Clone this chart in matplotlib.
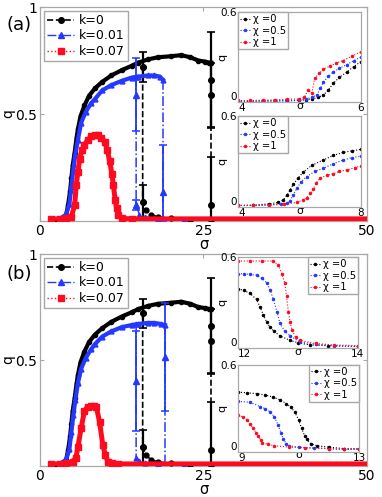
import numpy as np
import matplotlib.pyplot as plt
from matplotlib.lines import Line2D

BLACK = 'black'
BLUE = '#2438ff'
RED = '#ff0a1e'
GRAY = '#a8a8a8'

# ---- main panels, k = 0 (same in both panels) ----
k0_sig = [1.7, 2.5, 3.5, 4.0, 4.3, 4.6, 4.8, 5.0, 5.3, 5.6, 5.8, 6.2, 6.8, 7.5, 8.4, 9.5,
          10.9, 12.5, 14.0, 15.0, 16.5, 18.0, 20.0, 21.6, 23.0, 24.2, 25.2, 25.9, 26.2]
k0_q = [0.0, 0.005, 0.015, 0.03, 0.075, 0.14, 0.2, 0.26, 0.32, 0.39, 0.43, 0.49, 0.54, 0.585,
        0.62, 0.65, 0.68, 0.705, 0.725, 0.74, 0.755, 0.765, 0.77, 0.775, 0.765, 0.75, 0.745, 0.74, 0.74]
k0_drop_sig = [26.2, 26.2]
k0_drop_q = [0.74, 0.0]
k0_back_sig = [15.7, 15.7, 16.2, 17.0, 18.0, 20.0, 23.0, 26.2]
k0_back_q = [0.72, 0.09, 0.05, 0.03, 0.02, 0.012, 0.006, 0.004]
k0_err_sig = [15.7, 15.7, 26.2, 26.2, 26.2]
k0_err_q = [0.72, 0.09, 0.66, 0.59, 0.075]
k0_err = [0.07, 0.08, 0.225, 0.15, 0.225]

# ---- panel (a), k = 0.01 ----
k1a_sig = [3.0, 4.0, 4.5, 4.8, 5.1, 5.4, 5.8, 6.3, 7.0, 7.8, 8.4, 9.5, 10.9, 12.5, 14.0, 15.0,
           16.5, 17.5, 18.3, 18.8]
k1a_q = [0.01, 0.03, 0.08, 0.16, 0.24, 0.31, 0.38, 0.46, 0.51, 0.55, 0.57, 0.61, 0.635, 0.655,
         0.67, 0.675, 0.68, 0.68, 0.675, 0.66]
k1a_drop_sig = [18.8, 18.8]
k1a_drop_q = [0.66, 0.0]
k1a_back_sig = [14.7, 14.7, 15.2, 16.0, 18.0, 22.0]
k1a_back_q = [0.675, 0.075, 0.03, 0.02, 0.01, 0.005]
k1a_err_sig = [14.7, 14.7, 18.8]
k1a_err_q = [0.59, 0.075, 0.135]
k1a_err_lo = [0.17, 0.025, 0.135]
k1a_err_hi = [0.17, 0.025, 0.22]

# ---- panel (b), k = 0.01 ----
k1b_sig = [3.0, 4.0, 4.5, 4.8, 5.1, 5.4, 5.8, 6.3, 7.0, 7.8, 8.4, 9.5, 10.9, 12.5, 14.0, 15.0,
           16.5, 17.5, 18.5, 19.1]
k1b_q = [0.01, 0.03, 0.08, 0.16, 0.24, 0.31, 0.39, 0.46, 0.51, 0.55, 0.575, 0.61, 0.635, 0.655,
         0.665, 0.67, 0.675, 0.675, 0.67, 0.665]
k1b_drop_sig = [19.1, 19.1]
k1b_drop_q = [0.665, 0.0]
k1b_back_sig = [14.7, 14.7, 15.2, 16.0, 18.0, 22.0]
k1b_back_q = [0.67, 0.04, 0.025, 0.015, 0.01, 0.005]
k1b_err_sig = [14.7, 19.1]
k1b_err_q = [0.40, 0.515]
k1b_err_lo = [0.235, 0.255]
k1b_err_hi = [0.235, 0.255]

# ---- k = 0.07 ----
k7a_sig = [1.7, 3.0, 4.0, 4.8, 5.3, 5.55, 5.8, 6.07, 6.4, 6.8, 7.3, 7.85, 8.4, 8.87, 9.4, 9.9,
           10.3, 10.65, 11.0, 11.2, 11.5, 11.7, 12.0, 12.5, 14.0, 50.0]
k7a_q = [0.01, 0.01, 0.012, 0.02, 0.075, 0.17, 0.23, 0.29, 0.33, 0.355, 0.38, 0.395, 0.40, 0.40,
         0.39, 0.37, 0.33, 0.28, 0.22, 0.17, 0.10, 0.06, 0.03, 0.012, 0.01, 0.01]
k7b_sig = [1.7, 3.0, 4.0, 5.0, 5.5, 5.8, 6.3, 6.8, 7.3, 7.85, 8.3, 8.6, 9.1, 9.6, 10.0, 10.4,
           11.0, 12.0, 50.0]
k7b_q = [0.01, 0.01, 0.012, 0.02, 0.04, 0.09, 0.18, 0.26, 0.28, 0.285, 0.285, 0.28, 0.21, 0.10,
         0.05, 0.02, 0.012, 0.01, 0.01]

# ---- insets: chi = 0, 0.5, 1 ----
ia1_x0_sig = [4.0, 4.2, 4.4, 4.6, 4.8, 5.0, 5.1, 5.2, 5.3, 5.39, 5.47, 5.55, 5.65, 5.77, 5.88, 6.0]
ia1_x0_q = [0.005, 0.005, 0.006, 0.007, 0.008, 0.01, 0.015, 0.02, 0.03, 0.047, 0.08, 0.125,
            0.165, 0.2, 0.235, 0.27]
ia1_x05_sig = [4.0, 4.2, 4.4, 4.6, 4.8, 5.0, 5.1, 5.2, 5.28, 5.34, 5.39, 5.47, 5.55, 5.65, 5.77,
               5.88, 6.0]
ia1_x05_q = [0.005, 0.005, 0.006, 0.008, 0.01, 0.012, 0.02, 0.03, 0.047, 0.09, 0.135, 0.17, 0.2,
             0.225, 0.25, 0.275, 0.30]
ia1_x1_sig = [4.0, 4.2, 4.4, 4.6, 4.8, 5.0, 5.08, 5.14, 5.2, 5.25, 5.32, 5.39, 5.5, 5.6, 5.7,
              5.85, 6.0]
ia1_x1_q = [0.01, 0.01, 0.012, 0.015, 0.018, 0.02, 0.03, 0.08, 0.06, 0.16, 0.19, 0.22, 0.24, 0.26,
            0.275, 0.305, 0.335]

ia2_x0_sig = [4.0, 4.5, 5.0, 5.3, 5.47, 5.6, 5.69, 5.8, 5.95, 6.12, 6.4, 6.77, 7.1, 7.42, 7.7, 8.0]
ia2_x0_q = [0.01, 0.012, 0.02, 0.03, 0.046, 0.08, 0.11, 0.15, 0.19, 0.23, 0.275, 0.31, 0.34, 0.36,
            0.37, 0.38]
ia2_x05_sig = [4.0, 4.5, 5.0, 5.4, 5.6, 5.69, 5.8, 5.91, 6.05, 6.23, 6.5, 6.77, 7.1, 7.42, 7.7, 8.0]
ia2_x05_q = [0.01, 0.01, 0.015, 0.02, 0.025, 0.04, 0.08, 0.123, 0.165, 0.2, 0.235, 0.255, 0.285,
             0.31, 0.325, 0.336]
ia2_x1_sig = [4.0, 4.5, 5.0, 5.5, 5.91, 6.1, 6.23, 6.35, 6.45, 6.55, 6.67, 6.9, 7.1, 7.3, 7.55,
              7.8, 8.0]
ia2_x1_q = [0.01, 0.01, 0.012, 0.018, 0.03, 0.045, 0.06, 0.09, 0.12, 0.16, 0.19, 0.21, 0.22, 0.235,
            0.245, 0.26, 0.27]

ib1_x0_sig = [12.0, 12.1, 12.2, 12.31, 12.37, 12.42, 12.48, 12.53, 12.6, 12.7, 12.87, 13.0, 13.2,
              13.5, 14.0]
ib1_x0_q = [0.39, 0.38, 0.36, 0.32, 0.27, 0.22, 0.17, 0.14, 0.11, 0.08, 0.05, 0.035, 0.02, 0.015,
            0.01]
ib1_x05_sig = [12.0, 12.1, 12.2, 12.31, 12.4, 12.48, 12.54, 12.59, 12.65, 12.7, 12.78, 12.87,
               13.03, 13.3, 13.6, 14.0]
ib1_x05_q = [0.49, 0.49, 0.485, 0.48, 0.46, 0.43, 0.38, 0.32, 0.24, 0.163, 0.11, 0.08, 0.04, 0.025,
             0.015, 0.01]
ib1_x1_sig = [12.0, 12.2, 12.4, 12.59, 12.67, 12.73, 12.78, 12.81, 12.84, 12.87, 12.9, 12.96,
              13.03, 13.3, 13.6, 14.0]
ib1_x1_q = [0.574, 0.574, 0.574, 0.574, 0.547, 0.49, 0.43, 0.34, 0.24, 0.17, 0.12, 0.07, 0.05,
            0.03, 0.02, 0.015]

ib2_x0_sig = [9.0, 9.3, 9.62, 9.9, 10.17, 10.4, 10.6, 10.75, 10.88, 11.0, 11.1, 11.2, 11.27, 11.4,
              11.6, 12.0, 12.5, 13.0]
ib2_x0_q = [0.41, 0.405, 0.40, 0.39, 0.375, 0.355, 0.33, 0.305, 0.27, 0.22, 0.16, 0.11, 0.083,
            0.055, 0.04, 0.03, 0.02, 0.02]
ib2_x05_sig = [9.0, 9.4, 9.73, 9.9, 10.06, 10.2, 10.33, 10.42, 10.5, 10.6, 10.7, 11.0, 11.5, 12.0,
               12.5, 13.0]
ib2_x05_q = [0.346, 0.34, 0.31, 0.295, 0.275, 0.24, 0.18, 0.13, 0.083, 0.055, 0.04, 0.03, 0.025,
             0.02, 0.015, 0.015]
ib2_x1_sig = [9.0, 9.15, 9.29, 9.4, 9.5, 9.6, 9.67, 9.75, 9.8, 10.0, 10.2, 10.7, 11.2, 12.0, 12.5,
              13.0]
ib2_x1_q = [0.25, 0.24, 0.22, 0.19, 0.16, 0.13, 0.105, 0.08, 0.06, 0.05, 0.04, 0.03, 0.025, 0.02,
            0.015, 0.015]


def style_frame(ax):
    for sp in ax.spines.values():
        sp.set_color(GRAY)
        sp.set_linewidth(0.9)


def draw_main(ax, k1, k7):
    (k1_sig, k1_q, k1_drop_sig, k1_drop_q, k1_back_sig, k1_back_q,
     k1_err_sig, k1_err_q, k1_err_lo, k1_err_hi) = k1
    k7_sig, k7_q = k7

    # k = 0
    ax.plot(k0_sig, k0_q, color=BLACK, lw=3, zorder=3)
    ax.plot(k0_sig, k0_q, 'o', color=BLACK, ms=3, zorder=3)
    ax.plot(k0_drop_sig, k0_drop_q, '--', color=BLACK, lw=1.2, zorder=3)
    ax.plot(k0_back_sig, k0_back_q, '--', color=BLACK, lw=1.2, marker='o', ms=3.5, zorder=3)
    ax.errorbar(k0_err_sig, k0_err_q, yerr=k0_err, fmt='o', color=BLACK, ms=4, lw=1.6,
                capsize=3, capthick=1.2, zorder=3)

    # k = 0.01
    ax.plot(k1_sig, k1_q, color=BLUE, lw=3, zorder=4)
    ax.plot(k1_sig, k1_q, '^', color=BLUE, ms=3.5, zorder=4)
    ax.plot(k1_drop_sig, k1_drop_q, '-.', color=BLUE, lw=1.1, zorder=4)
    ax.plot(k1_back_sig, k1_back_q, '-.', color=BLUE, lw=1.1, marker='^', ms=3.5, zorder=4)
    ax.errorbar(k1_err_sig, k1_err_q, yerr=[k1_err_lo, k1_err_hi], fmt='^', color=BLUE, ms=4,
                lw=1.3, capsize=3, capthick=1.1, zorder=4)

    # k = 0.07
    ax.plot(k7_sig, k7_q, color=RED, lw=3.6, zorder=5)
    ax.plot(k7_sig[:-1], k7_q[:-1], 's', color=RED, ms=4.5, zorder=5)

    ax.set_xlim(0, 50)
    ax.set_ylim(0, 1)
    ax.set_xticks([0, 25, 50])
    ax.set_yticks([0, 0.5, 1])
    ax.set_yticklabels(['', '0.5', '1'])
    ax.tick_params(direction='in', top=True, right=True, length=3, labelsize=10, pad=2,
                   color=GRAY)
    ax.set_xlabel('σ', fontsize=10.5, labelpad=-0.5)
    ax.set_ylabel('q', fontsize=10, labelpad=0)
    style_frame(ax)

    handles = [Line2D([], [], color=BLACK, ls='--', marker='o', ms=4, lw=1.2, label='k=0'),
               Line2D([], [], color=BLUE, ls='-.', marker='^', ms=4, lw=1.0, label='k=0.01'),
               Line2D([], [], color=RED, ls=':', marker='s', ms=4, lw=1.0, label='k=0.07')]
    leg = ax.legend(handles=handles, loc='upper left', fontsize=9, handlelength=2.2,
                    handletextpad=0.4, borderpad=0.25, labelspacing=0.2, borderaxespad=0.3,
                    fancybox=False, framealpha=1)
    leg.get_frame().set_edgecolor(GRAY)


def draw_inset(ax, curves, xlim, loc):
    colors = [BLACK, BLUE, RED]
    labels = ['χ =0', 'χ =0.5', 'χ =1']
    for (s, q), c, lab in zip(curves, colors, labels):
        ax.plot(s, q, ':', color=c, lw=0.8, marker='.', ms=3, label=lab)
    ax.set_xlim(*xlim)
    ax.set_ylim(0, 0.6)
    ax.set_xticks(list(xlim))
    ax.set_yticks([0, 0.6])
    ax.set_yticklabels(['0', '0.6'])
    ax.tick_params(length=0, labelsize=7.5, pad=1)
    xl = ax.get_xticklabels()
    xl[0].set_ha('left')
    ax.get_yticklabels()[0].set_va('bottom')
    ax.set_xlabel('σ', fontsize=8, labelpad=-9)
    ax.set_ylabel('q', fontsize=8, labelpad=-5)
    style_frame(ax)
    leg = ax.legend(loc=loc, fontsize=7.2, handlelength=1.0, handletextpad=0.3, borderpad=0.2,
                    labelspacing=0.15, borderaxespad=0.0, fancybox=False, framealpha=1)
    leg.get_frame().set_edgecolor(GRAY)


fig = plt.figure(figsize=(3.82, 4.97), dpi=100)

ax_a = fig.add_axes([0.1047, 0.5553, 0.856, 0.4306])
draw_main(ax_a,
          (k1a_sig, k1a_q, k1a_drop_sig, k1a_drop_q, k1a_back_sig, k1a_back_q,
           k1a_err_sig, k1a_err_q, k1a_err_lo, k1a_err_hi),
          (k7a_sig, k7a_q))
ax_b = fig.add_axes([0.1047, 0.0623, 0.856, 0.4266])
draw_main(ax_b,
          (k1b_sig, k1b_q, k1b_drop_sig, k1b_drop_q, k1b_back_sig, k1b_back_q,
           k1b_err_sig, k1b_err_q, k1b_err_lo, k1b_err_hi),
          (k7b_sig, k7b_q))

ins_a1 = fig.add_axes([0.623, 0.7948, 0.322, 0.181])
draw_inset(ins_a1, [(ia1_x0_sig, ia1_x0_q), (ia1_x05_sig, ia1_x05_q), (ia1_x1_sig, ia1_x1_q)],
           (4, 6), 'upper left')
ins_a2 = fig.add_axes([0.623, 0.5835, 0.322, 0.183])
draw_inset(ins_a2, [(ia2_x0_sig, ia2_x0_q), (ia2_x05_sig, ia2_x05_q), (ia2_x1_sig, ia2_x1_q)],
           (4, 8), 'upper left')
ins_b1 = fig.add_axes([0.623, 0.2998, 0.314, 0.183])
draw_inset(ins_b1, [(ib1_x0_sig, ib1_x0_q), (ib1_x05_sig, ib1_x05_q), (ib1_x1_sig, ib1_x1_q)],
           (12, 14), 'upper right')
ins_b2 = fig.add_axes([0.623, 0.0915, 0.317, 0.175])
draw_inset(ins_b2, [(ib2_x0_sig, ib2_x0_q), (ib2_x05_sig, ib2_x05_q), (ib2_x1_sig, ib2_x1_q)],
           (9, 13), 'upper right')

fig.text(0.018, 0.95, '(a)', fontsize=13, va='center')
fig.text(0.018, 0.448, '(b)', fontsize=13, va='center')

fig.savefig('out.png', dpi=100)
